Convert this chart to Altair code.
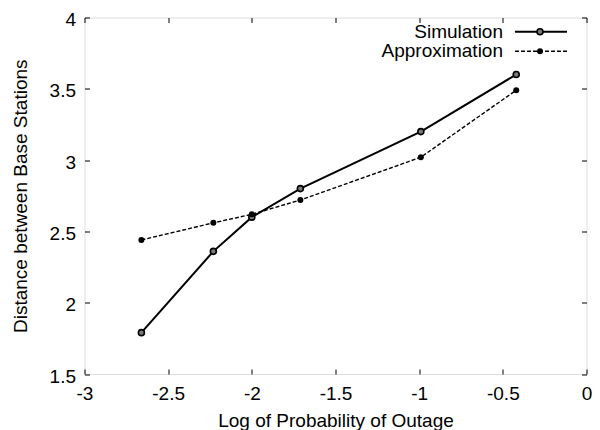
import altair as alt
import pandas as pd

# ---- data ----
x_vals = [-2.66, -2.23, -2.0, -1.71, -0.99, -0.42]
sim_vals = [1.79, 2.36, 2.60, 2.80, 3.20, 3.60]
approx_vals = [2.44, 2.56, 2.62, 2.72, 3.02, 3.49]
series_names = ["Simulation", "Approximation"]
x_ticks = [-3, -2.5, -2, -1.5, -1, -0.5, 0]
y_ticks = [1.5, 2, 2.5, 3, 3.5, 4]
x_title = "Log of Probability of Outage"
y_title = "Distance between Base Stations"

FONT = "Liberation Sans"
FS = 19
TICK = 5

sim_df = pd.DataFrame({"x": x_vals, "y": sim_vals, "series": series_names[0]})
approx_df = pd.DataFrame({"x": x_vals, "y": approx_vals, "series": series_names[1]})
legend_df = pd.DataFrame({"series": series_names})

xs = alt.Scale(domain=[x_ticks[0], x_ticks[-1]], nice=False, zero=False)
ys = alt.Scale(domain=[y_ticks[0], y_ticks[-1]], nice=False, zero=False)


def axis(orient, ticks, labels, title=None, **kw):
    d = dict(values=ticks, orient=orient, labels=labels, grid=False,
             domain=False, tickColor="black", tickWidth=1, tickSize=TICK,
             offset=-TICK, labelFont=FONT, labelFontSize=FS,
             labelColor="black", labelFlush=False, labelOverlap=False,
             titleFont=FONT, titleFontSize=FS,
             titleColor="black", titleFontWeight="normal", title=title)
    if labels:
        d["labelExpr"] = "toString(datum.value)"
    d.update(kw)
    return alt.Axis(**d)


x_bottom = axis("bottom", x_ticks, True, x_title, labelPadding=10,
                titlePadding=8)
y_left = axis("left", y_ticks, True, y_title, labelPadding=9,
              labelOffset=2, titlePadding=19)
x_top = axis("top", x_ticks, False)
y_right = axis("right", y_ticks, False)

sim_line = alt.Chart(sim_df).mark_line(color="black", strokeWidth=2).encode(
    x=alt.X("x:Q", scale=xs, axis=x_bottom),
    y=alt.Y("y:Q", scale=ys, axis=y_left),
)
approx_line = alt.Chart(approx_df).mark_line(
    color="black", strokeWidth=1.4, strokeDash=[4, 2]
).encode(
    x=alt.X("x:Q", scale=xs, axis=x_top),
    y=alt.Y("y:Q", scale=ys, axis=y_right),
)
sim_pts = alt.Chart(sim_df).mark_point(
    shape="circle", filled=True, fill="#7a7a7a", stroke="black",
    strokeWidth=1.6, size=36, opacity=1
).encode(
    x=alt.X("x:Q", scale=xs, axis=None),
    y=alt.Y("y:Q", scale=ys, axis=None),
)
approx_pts = alt.Chart(approx_df).mark_point(
    shape="circle", filled=True, color="black", size=36, opacity=1
).encode(
    x=alt.X("x:Q", scale=xs, axis=None),
    y=alt.Y("y:Q", scale=ys, axis=None),
)

# ---- legend (gnuplot style: text, then sample) ----
leg_rows = {series_names[0]: 14.25, series_names[1]: 33.75}
TX, L1, L2, MX = 418.5, 430.5, 482.5, 455.5


def leg_text(name):
    return alt.Chart(legend_df).transform_filter(
        alt.datum.series == name
    ).mark_text(align="right", baseline="middle", font=FONT, fontSize=FS,
                color="black").encode(
        text="series:N", x=alt.value(TX), y=alt.value(leg_rows[name]))


leg_sim_line = alt.Chart(legend_df).transform_filter(
    alt.datum.series == series_names[0]
).mark_rule(color="black", strokeWidth=2).encode(
    x=alt.value(L1), x2=alt.value(L2), y=alt.value(leg_rows[series_names[0]]))
leg_app_line = alt.Chart(legend_df).transform_filter(
    alt.datum.series == series_names[1]
).mark_rule(color="black", strokeWidth=1.4, strokeDash=[4, 2]).encode(
    x=alt.value(L1), x2=alt.value(L2), y=alt.value(leg_rows[series_names[1]]))
leg_sim_pt = alt.Chart(legend_df).transform_filter(
    alt.datum.series == series_names[0]
).mark_point(shape="circle", filled=True, fill="#7a7a7a", stroke="black",
             strokeWidth=1.6, size=36, opacity=1).encode(
    x=alt.value(MX), y=alt.value(leg_rows[series_names[0]]))
leg_app_pt = alt.Chart(legend_df).transform_filter(
    alt.datum.series == series_names[1]
).mark_point(shape="circle", filled=True, color="black", size=36,
             opacity=1).encode(
    x=alt.value(MX), y=alt.value(leg_rows[series_names[1]]))

chart = alt.layer(
    sim_line, approx_line, sim_pts, approx_pts,
    leg_text(series_names[0]), leg_text(series_names[1]),
    leg_sim_line, leg_app_line, leg_sim_pt, leg_app_pt,
).resolve_axis(x="independent", y="independent").properties(
    width=502, height=356.5,
    autosize=alt.AutoSizeParams(type="none"),
    padding={"left": 76.5, "top": 9.5, "right": 5.5, "bottom": 56},
).configure_view(stroke="black", strokeWidth=2).configure(background="white")

chart.save("out.html", embed_options={"renderer": "svg", "actions": False})
